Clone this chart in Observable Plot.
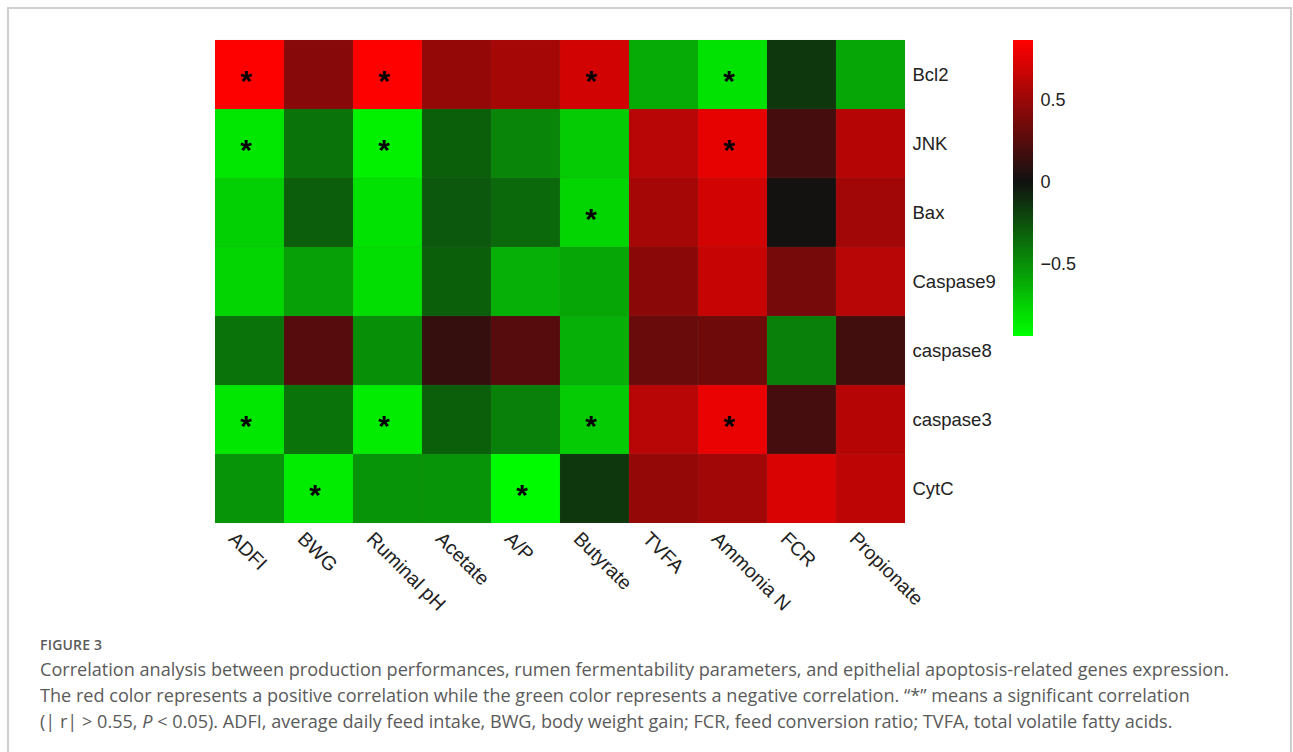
<!DOCTYPE html>
<html>
<head>
<meta charset="utf-8">
<script src="https://cdn.jsdelivr.net/npm/d3@7"></script>
<script src="https://cdn.jsdelivr.net/npm/@observablehq/plot@0.6"></script>
<style>
  html, body { margin: 0; padding: 0; background: #fff; overflow: hidden; }
  #page { position: relative; width: 1293px; height: 752px; }
  #frame { position: absolute; left: 7px; top: 7px; width: 1285px; height: 800px; border: 2px solid #cfcfcf; box-sizing: border-box; }
  #main { position: absolute; left: 0; top: 0; }
  #legend { position: absolute; left: 1013px; top: 40px; }
  #caption { position: absolute; left: 40px; top: 634px; width: 1240px; font-family: "Open Sans", sans-serif; color: #5a5a5a; }
  #caption .fig { font-size: 14px; font-weight: 600; letter-spacing: 0.2px; color: #5a5a5a; line-height: 22px; }
  #caption .txt { font-size: 18.1px; line-height: 26px; white-space: nowrap; }
</style>
</head>
<body>
<div id="page">
  <div id="frame"></div>
  <div id="main"></div>
  <div id="legend"></div>
  <div id="caption">
    <div class="fig">FIGURE 3</div>
    <div class="txt">Correlation analysis between production performances, rumen fermentability parameters, and epithelial apoptosis-related genes expression.<br>The red color represents a positive correlation while the green color represents a negative correlation. “*” means a significant correlation<br>(| r| &gt; 0.55, <i>P</i> &lt; 0.05). ADFI, average daily feed intake, BWG, body weight gain; FCR, feed conversion ratio; TVFA, total volatile fatty acids.</div>
  </div>
</div>
<script>
// Column (x) and row (y) categories
const cols = ["ADFI", "BWG", "Ruminal pH", "Acetate", "A/P", "Butyrate", "TVFA", "Ammonia N", "FCR", "Propionate"];
const rows = ["Bcl2", "JNK", "Bax", "Caspase9", "caspase8", "caspase3", "CytC"];

// Correlation values per row, in the column order above
const bcl2     = [0.86, 0.43, 0.86, 0.48, 0.54, 0.70, -0.61, -0.83, -0.15, -0.59];
const jnk      = [-0.85, -0.39, -0.89, -0.31, -0.46, -0.74, 0.61, 0.78, 0.19, 0.60];
const bax      = [-0.76, -0.30, -0.83, -0.28, -0.35, -0.78, 0.54, 0.70, 0.01, 0.53];
const caspase9 = [-0.78, -0.57, -0.81, -0.31, -0.63, -0.59, 0.44, 0.66, 0.37, 0.61];
const caspase8 = [-0.39, 0.25, -0.50, 0.13, 0.25, -0.63, 0.32, 0.34, -0.44, 0.18];
const caspase3 = [-0.85, -0.39, -0.87, -0.31, -0.44, -0.74, 0.61, 0.79, 0.19, 0.60];
const cytc     = [-0.52, -0.87, -0.52, -0.52, -0.93, -0.15, 0.48, 0.53, 0.73, 0.63];
const rowValues = [bcl2, jnk, bax, caspase9, caspase8, caspase3, cytc];

// Significant cells ("*")
const sigRows = ["Bcl2", "Bcl2", "Bcl2", "Bcl2", "JNK", "JNK", "JNK", "Bax", "caspase3", "caspase3", "caspase3", "caspase3", "CytC", "CytC"];
const sigCols = ["ADFI", "Ruminal pH", "Butyrate", "Ammonia N", "ADFI", "Ruminal pH", "Ammonia N", "Butyrate", "ADFI", "Ruminal pH", "Butyrate", "Ammonia N", "BWG", "A/P"];

// Colour bar extent and ticks
const legendMin = -0.945, legendMax = 0.868;
const legendTicks = [-0.5, 0, 0.5];

const cells = [];
rows.forEach((r, i) => cols.forEach((c, j) => cells.push({row: r, col: c, value: rowValues[i][j]})));
const sig = sigRows.map((r, i) => ({row: r, col: sigCols[i]}));

const colorScale = {
  type: "linear",
  domain: [legendMin, 0, legendMax],
  range: ["#00ff00", "#111111", "#ff0000"],
  interpolate: "rgb",
  clamp: true
};

const main = Plot.plot({
  width: 1000,
  height: 640,
  marginLeft: 215,
  marginRight: 95,
  marginTop: 40,
  marginBottom: 117,
  style: {fontFamily: "'Liberation Sans', Arial, sans-serif", color: "#222", background: "transparent"},
  x: {domain: cols, padding: 0, axis: null},
  y: {domain: rows, padding: 0, axis: null},
  color: colorScale,
  marks: [
    Plot.cell(cells, {x: "col", y: "row", fill: "value", inset: 0, stroke: "#777", strokeOpacity: 0.12, strokeWidth: 0.6}),
    Plot.text(sig, {x: "col", y: "row", text: () => "*", fontSize: 30, fontWeight: "bold", fill: "#000", dx: -4, dy: 6}),
    Plot.axisX({anchor: "bottom", label: null, tickSize: 0, tickPadding: 8, tickRotate: 45, textAnchor: "start", lineAnchor: "middle", fontSize: 19.5, dx: -18, dy: 4, fill: "#222"}),
    Plot.axisY({anchor: "right", label: null, tickSize: 0, tickPadding: 7, fontSize: 18.5, textAnchor: "start", fill: "#222"})
  ]
});
document.getElementById("main").appendChild(main);

// Vertical colour bar
const nStops = 150;
const stops = d3.range(nStops).map(i => {
  const a = legendMin + (legendMax - legendMin) * i / nStops;
  const b = legendMin + (legendMax - legendMin) * (i + 1) / nStops;
  return {y1: a, y2: b, v: (a + b) / 2};
});
const legend = Plot.plot({
  width: 80,
  height: 296,
  marginLeft: 0,
  marginRight: 60,
  marginTop: 0,
  marginBottom: 0,
  style: {fontFamily: "'Liberation Sans', Arial, sans-serif", color: "#222", background: "transparent"},
  x: {domain: [0, 1], axis: null},
  y: {domain: [legendMin, legendMax], axis: null},
  color: colorScale,
  marks: [
    Plot.rect(stops, {x1: 0, x2: 1, y1: "y1", y2: "y2", fill: "v", shapeRendering: "crispEdges"}),
    Plot.axisY({anchor: "right", label: null, ticks: legendTicks, tickSize: 0, tickPadding: 7, fontSize: 18, fill: "#222", tickFormat: d3.format("")})
  ]
});
document.getElementById("legend").appendChild(legend);
</script>
</body>
</html>
